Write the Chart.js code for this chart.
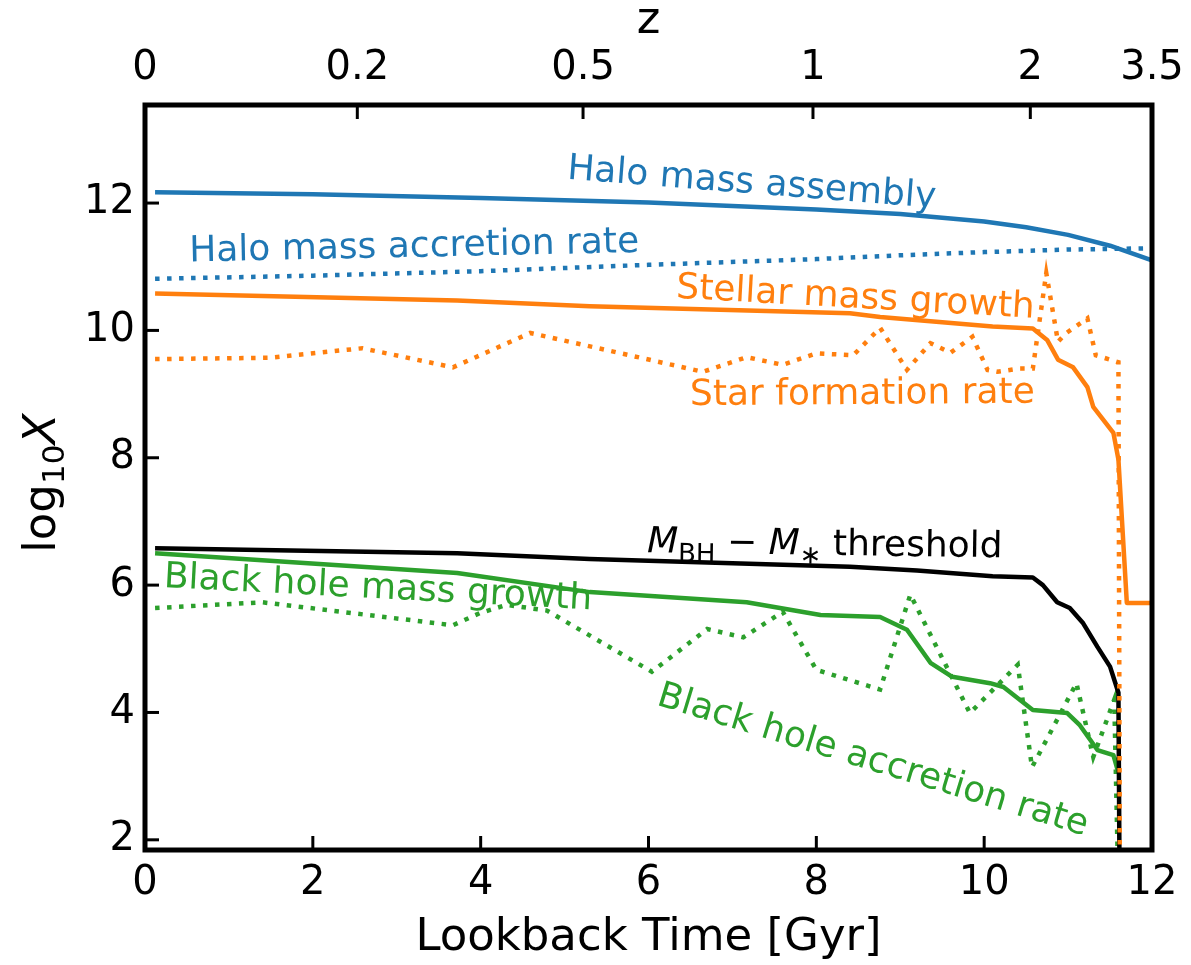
<!DOCTYPE html>
<html>
<head>
<meta charset="utf-8">
<script src="https://cdn.jsdelivr.net/npm/chart.js@4.4.1/dist/chart.umd.min.js"></script>
<style>
  html, body { margin: 0; padding: 0; background: #fff; }
  #wrap { width: 1191px; height: 965px; }
</style>
</head>
<body>
<div id="wrap"><canvas id="chart" width="1191" height="965"></canvas></div>
<script>
// lookback time [Gyr] and log10 values
const haloMassT = [0.12, 2, 4, 6, 8, 9, 10, 10.5, 11, 11.5, 12]
const haloMass = [12.17, 12.14, 12.08, 12.01, 11.9, 11.83, 11.71, 11.62, 11.5, 11.33, 11.1]

const haloRateT = [0.12, 2, 4, 6, 8, 9, 10, 11, 12]
const haloRate = [10.81, 10.86, 10.93, 11.03, 11.12, 11.18, 11.23, 11.27, 11.29]

const stellarT = [0.12, 3.72, 5.3, 8.4, 8.76, 10.1, 10.58, 10.75, 10.88, 11.06, 11.23, 11.3, 11.54, 11.6, 11.7, 12]
const stellar = [10.58, 10.47, 10.38, 10.27, 10.21, 10.06, 10.03, 9.85, 9.54, 9.42, 9.11, 8.8, 8.39, 7.97, 5.72, 5.72]

const sfrT = [0.12, 1.48, 2.59, 3.67, 4.59, 6.65, 7.17, 7.6, 8.0, 8.44, 8.76, 9.08, 9.36, 9.6, 9.86, 10.04, 10.16, 10.41, 10.58, 10.74, 10.88, 10.97, 11.23, 11.33, 11.6, 11.62]
const sfr = [9.55, 9.57, 9.72, 9.42, 9.96, 9.35, 9.58, 9.46, 9.64, 9.61, 10.04, 9.38, 9.8, 9.65, 9.9, 9.38, 9.35, 9.4, 9.4, 10.9, 9.82, 9.95, 10.19, 9.61, 9.5, 0]

const bhThreshT = [0.12, 3.72, 5.3, 8.4, 9.2, 10.1, 10.58, 10.7, 10.87, 11.02, 11.18, 11.35, 11.5, 11.6, 11.62]
const bhThresh = [6.58, 6.5, 6.41, 6.29, 6.23, 6.14, 6.12, 6.0, 5.73, 5.64, 5.4, 5.03, 4.72, 4.31, 0]

const bhMassT = [0.12, 3.72, 5.3, 7.17, 8.05, 8.76, 9.08, 9.36, 9.62, 10.07, 10.23, 10.58, 10.99, 11.14, 11.35, 11.54, 11.6]
const bhMass = [6.5, 6.19, 5.89, 5.73, 5.53, 5.5, 5.3, 4.78, 4.56, 4.46, 4.4, 4.04, 3.99, 3.8, 3.41, 3.33, 3.05]

const bhRateT = [0.12, 1.4, 3.67, 3.99, 4.31, 4.79, 6.04, 6.7, 7.13, 7.6, 8.0, 8.76, 9.12, 9.83, 10.4, 10.57, 11.1, 11.3, 11.55, 11.62]
const bhRate = [5.64, 5.73, 5.37, 5.56, 5.69, 5.6, 4.64, 5.31, 5.18, 5.58, 4.67, 4.36, 5.85, 3.99, 4.75, 3.14, 4.46, 3.3, 4.2, 0]

const xTicks = [0, 2, 4, 6, 8, 10, 12]
const yTicks = [2, 4, 6, 8, 10, 12]
const zTickLabels = ['0', '0.2', '0.5', '1', '2', '3.5']
const zTickGyr = [0, 2.53, 5.22, 7.96, 10.55, 12]

const blue = '#1f77b4'
const orange = '#ff7f0e'
const green = '#2ca02c'

function pts(t, v) {
    return t.map((x, i) => ({ x: x, y: v[i] }))
}

function line(label, t, v, color, dotted) {
    return {
        label: label,
        data: pts(t, v),
        borderColor: color,
        borderWidth: 4.5,
        borderDash: dotted ? [4.5, 7.5] : [],
        borderCapStyle: 'butt',
        borderJoinStyle: dotted ? 'miter' : 'round',
        pointRadius: 0,
        tension: 0,
        fill: false,
        showLine: true
    }
}

// text labels placed in data units
const notes = [
    { text: 'Halo mass assembly', x: 7.22, y: 12.36, angle: 4.5, color: blue },
    { text: 'Halo mass accretion rate', x: 3.21, y: 11.36, angle: -1.2, color: blue },
    { text: 'Stellar mass growth', x: 8.46, y: 10.56, angle: 3.2, color: orange },
    { text: 'Star formation rate', x: 8.55, y: 9.05, angle: -0.4, color: orange },
    { text: 'Black hole mass growth', x: 2.77, y: 6.0, angle: 3.0, color: green },
    { text: 'Black hole accretion rate', x: 8.64, y: 3.3, angle: 17, color: green }
]

const FONT = '"DejaVu Sans", sans-serif'

// draw a run of [text, style] pieces, centered on (cx, cy)
function richText(ctx, parts, cx, cy, angle, color) {
    ctx.save()
    ctx.translate(cx, cy)
    ctx.rotate(angle * Math.PI / 180)
    ctx.fillStyle = color
    ctx.textBaseline = 'alphabetic'
    ctx.textAlign = 'left'
    let total = 0
    for (let p of parts) {
        ctx.font = p.font
        total += ctx.measureText(p.t).width
    }
    let x = -total / 2
    for (let p of parts) {
        ctx.font = p.font
        ctx.fillText(p.t, x, p.dy || 0)
        x += ctx.measureText(p.t).width
    }
    ctx.restore()
}

const decor = {
    id: 'decor',
    afterDatasetsDraw(chart) {
        const ctx = chart.ctx
        const a = chart.chartArea
        const xs = chart.scales.x
        const ys = chart.scales.y
        const zs = chart.scales.x2

        ctx.save()
        ctx.strokeStyle = '#000'
        ctx.lineWidth = 3
        for (let v of xTicks) {
            let px = xs.getPixelForValue(v)
            ctx.beginPath(); ctx.moveTo(px, a.bottom); ctx.lineTo(px, a.bottom - 14); ctx.stroke()
        }
        for (let v of yTicks) {
            let py = ys.getPixelForValue(v)
            ctx.beginPath(); ctx.moveTo(a.left, py); ctx.lineTo(a.left + 14, py); ctx.stroke()
        }
        for (let v of zTickGyr) {
            let px = zs.getPixelForValue(v)
            ctx.beginPath(); ctx.moveTo(px, a.top); ctx.lineTo(px, a.top + 14); ctx.stroke()
        }
        ctx.lineWidth = 5
        ctx.strokeRect(a.left, a.top, a.right - a.left, a.bottom - a.top)
        ctx.restore()

        const f = '36px ' + FONT
        for (let n of notes) {
            richText(ctx, [{ t: n.text, font: f }], xs.getPixelForValue(n.x), ys.getPixelForValue(n.y) + 13, n.angle, n.color)
        }

        // M_BH - M_* threshold
        const it = 'italic 36px ' + FONT
        const sub = '26px ' + FONT
        richText(ctx, [
            { t: 'M', font: it },
            { t: 'BH', font: sub, dy: 9 },
            { t: ' \u2212 ', font: f },
            { t: 'M', font: it },
            { t: '\u2217', font: sub, dy: 9 },
            { t: ' threshold', font: f }
        ], xs.getPixelForValue(8.1), ys.getPixelForValue(6.68) + 13, 0.8, '#000')

        // y axis label log10 X
        richText(ctx, [
            { t: 'log', font: '45px ' + FONT },
            { t: '10', font: '31px ' + FONT, dy: 9 },
            { t: 'X', font: 'italic 45px ' + FONT }
        ], 55, ys.getPixelForValue(7.6), -90, '#000')
    }
}

// keep the plot frame where the reference has it, whatever the tick labels overhang
function fixH(h) {
    return s => {
        s.height = h
        s.paddingLeft = 0
        s.paddingRight = 0
    }
}

new Chart(document.getElementById('chart'), {
    type: 'scatter',
    data: {
        datasets: [
            line('Halo mass assembly', haloMassT, haloMass, blue, false),
            line('Halo mass accretion rate', haloRateT, haloRate, blue, true),
            line('Stellar mass growth', stellarT, stellar, orange, false),
            line('Star formation rate', sfrT, sfr, orange, true),
            line('M_BH - M_* threshold', bhThreshT, bhThresh, '#000', false),
            line('Black hole mass growth', bhMassT, bhMass, green, false),
            line('Black hole accretion rate', bhRateT, bhRate, green, true)
        ]
    },
    options: {
        responsive: false,
        animation: false,
        layout: { padding: { left: 0, right: 39, top: 0, bottom: 0 } },
        plugins: {
            legend: { display: false },
            tooltip: { enabled: false }
        },
        scales: {
            x: {
                type: 'linear',
                position: 'bottom',
                min: 0,
                max: 12,
                afterBuildTicks: s => { s.ticks = xTicks.map(v => ({ value: v })) },
                afterFit: fixH(115),
                grid: { display: false, drawTicks: false },
                border: { display: false },
                ticks: { color: '#000', font: { family: FONT, size: 40 }, padding: 10, maxRotation: 0, autoSkip: false },
                title: { display: true, text: 'Lookback Time [Gyr]', color: '#000', font: { family: FONT, size: 45 }, padding: { top: 0, bottom: 0 } }
            },
            x2: {
                type: 'linear',
                position: 'top',
                min: 0,
                max: 12,
                afterBuildTicks: s => { s.ticks = zTickGyr.map(v => ({ value: v })) },
                afterFit: fixH(105),
                grid: { display: false, drawTicks: false },
                border: { display: false },
                ticks: {
                    color: '#000', font: { family: FONT, size: 40 }, padding: 12, maxRotation: 0, autoSkip: false,
                    callback: (v, i) => zTickLabels[i]
                },
                title: { display: true, text: 'z', color: '#000', font: { family: FONT, size: 45 }, padding: { top: -6, bottom: 0 } }
            },
            y: {
                type: 'linear',
                min: 1.84,
                max: 13.54,
                afterBuildTicks: s => { s.ticks = yTicks.map(v => ({ value: v })) },
                afterFit: s => { s.width = 145 },
                grid: { display: false, drawTicks: false },
                border: { display: false },
                ticks: { color: '#000', font: { family: FONT, size: 40 }, padding: 10 }
            }
        }
    },
    plugins: [decor]
})
</script>
</body>
</html>
